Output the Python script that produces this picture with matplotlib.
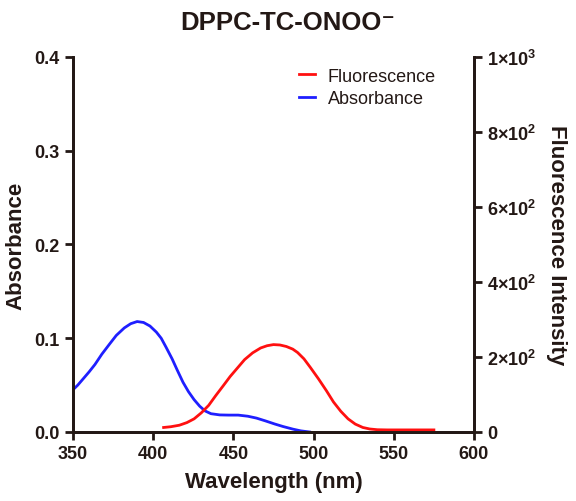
import matplotlib
matplotlib.use('Agg')
import matplotlib.pyplot as plt

plt.rcParams['font.family'] = ['Liberation Sans', 'DejaVu Sans']
plt.rcParams['mathtext.fontset'] = 'custom'
plt.rcParams['mathtext.rm'] = 'Liberation Sans'
plt.rcParams['mathtext.bf'] = 'Liberation Sans:style=normal:bold'

# Absorbance spectrum (left axis)
abs_wl = [350, 353, 356, 360, 363.7, 368, 372.9, 377, 382, 386, 390, 394, 398,
          402, 405, 408, 411.8, 415, 418.6, 422, 425.5, 429, 432.3, 436, 441.5,
          447, 453, 459, 464.4, 470, 475.8, 481, 487.2, 492, 497.5]
abs_val = [0.045, 0.050, 0.056, 0.064, 0.072, 0.083, 0.094, 0.103, 0.111, 0.1155,
           0.1178, 0.1168, 0.113, 0.1065, 0.100, 0.0905, 0.078, 0.066, 0.053,
           0.043, 0.0345, 0.0275, 0.0225, 0.0195, 0.0182, 0.018, 0.018, 0.0168,
           0.0148, 0.0118, 0.0085, 0.0058, 0.003, 0.0012, 0.0]

# Fluorescence emission spectrum (right axis)
fl_wl = [406.5, 411, 416.3, 421, 425.5, 430, 434.6, 439, 443.8, 448, 453, 457,
         462, 467, 471, 475, 479, 483, 487, 490, 494, 498, 503, 508, 512.4, 517,
         521.5, 526, 530.7, 535, 539.8, 546, 556, 565, 575]
fl_val = [12, 14, 18, 25, 35, 51, 71, 97, 124, 148, 173, 193, 211, 224, 230, 233,
          232, 228, 221, 212, 195, 172, 142, 110, 80, 55, 35, 21, 12, 8, 6, 5.5,
          5.5, 5.5, 5.5]

fl_ticks = [0, 200, 400, 600, 800, 1000]
fl_labels = ['0', r'$\mathbf{2{\times}10^{2}}$', r'$\mathbf{4{\times}10^{2}}$',
             r'$\mathbf{6{\times}10^{2}}$', r'$\mathbf{8{\times}10^{2}}$',
             r'$\mathbf{1{\times}10^{3}}$']

ink = '#231815'
fig = plt.figure(figsize=(5.76, 5.02), dpi=100)
ax = fig.add_axes([0.1267, 0.1375, 0.6962, 0.747])
ax2 = ax.twinx()

ax.plot(abs_wl, abs_val, color='#1f1fff', lw=2)
ax2.plot(fl_wl, fl_val, color='#ff1010', lw=2)

ax.set_xlim(350, 600)
ax.set_ylim(0, 0.4)
ax2.set_ylim(0, 1000)
ax.set_xticks([350, 400, 450, 500, 550, 600])
ax.set_yticks([0.0, 0.1, 0.2, 0.3, 0.4])
ax.set_yticklabels(['0.0', '0.1', '0.2', '0.3', '0.4'])
ax2.set_yticks(fl_ticks)
ax2.set_yticklabels(fl_labels)

for a in (ax, ax2):
    a.spines['top'].set_visible(False)
    for s in ('left', 'right', 'bottom'):
        a.spines[s].set_color(ink)
        a.spines[s].set_linewidth(2)
    a.tick_params(colors=ink, width=2, length=6, labelsize=13)
    for lab in a.get_xticklabels() + a.get_yticklabels():
        lab.set_fontweight('bold')

ax.set_xlabel('Wavelength (nm)', fontsize=16, fontweight='bold', color=ink, labelpad=6)
ax.set_ylabel('Absorbance', fontsize=16, fontweight='bold', color=ink, labelpad=6)
ax2.set_ylabel('Fluorescence Intensity', fontsize=16, fontweight='bold', color=ink,
               rotation=270, labelpad=22)
fig.text(0.5, 0.955, 'DPPC-TC-ONOO⁻', fontsize=18.5, fontweight='bold', color=ink,
         ha='center', va='center')

h1, = ax.plot([], [], color='#ff1010', lw=2, label='Fluorescence')
h2, = ax.plot([], [], color='#1f1fff', lw=2, label='Absorbance')
ax.legend(handles=[h1, h2], loc='upper right', bbox_to_anchor=(0.945, 1.015),
          frameon=False, fontsize=13, handlelength=0.9, handletextpad=0.7,
          labelspacing=0.3, labelcolor=ink)

fig.savefig('out.png', dpi=100)
